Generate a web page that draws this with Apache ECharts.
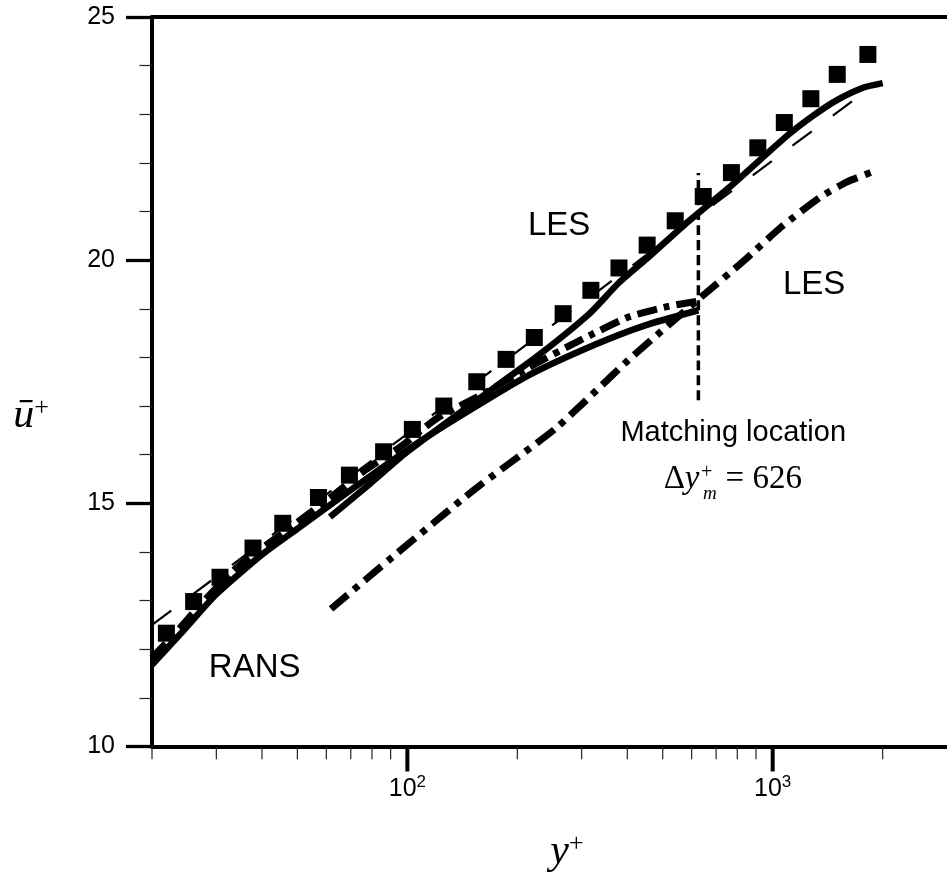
<!DOCTYPE html>
<html><head><meta charset="utf-8">
<script src="https://cdn.jsdelivr.net/npm/echarts@6/dist/echarts.min.js"></script>
<style>html,body{margin:0;padding:0;background:#fff}#c{width:947px;height:875px}</style>
</head><body><div id="c"></div>
<script>
// ---- data ----
const squaresX = [21.9, 26.0, 30.7, 37.8, 45.6, 57.1, 69.4, 86.1, 103.2, 125.8, 154.9, 186.3, 222.6, 266.9, 317.9, 379.5, 453.3, 541.0, 645.5, 770.9, 910.6, 1076, 1272, 1502, 1822];
const squaresU = [12.33, 12.98, 13.48, 14.08, 14.59, 15.12, 15.58, 16.06, 16.52, 17.00, 17.50, 17.96, 18.41, 18.90, 19.38, 19.84, 20.31, 20.81, 21.31, 21.80, 22.31, 22.83, 23.32, 23.82, 24.23];

const ransX = [20, 24.5, 29.9, 39.9, 50.3, 68.7, 100, 142.8, 215.8, 328, 448, 626];
const ransU = [11.68, 12.40, 13.12, 13.94, 14.49, 15.23, 16.10, 16.84, 17.64, 18.27, 18.66, 18.97];

const ransDashDotX = [20, 24.0, 27.4, 34.5, 47.2, 61.8, 76.9, 95.7, 120.6, 164.9, 215.8, 294.9, 403.3, 517.7, 626];
const ransDashDotU = [11.82, 12.46, 12.95, 13.71, 14.47, 15.13, 15.69, 16.16, 16.75, 17.29, 17.80, 18.34, 18.83, 19.05, 19.16];

const lesX = [61.4, 78.9, 100, 154.9, 225.5, 314, 378.7, 456.7, 576, 772.6, 1076, 1274, 1499, 1774, 2000];
const lesU = [14.72, 15.40, 16.06, 17.12, 18.01, 18.89, 19.53, 20.06, 20.74, 21.54, 22.51, 22.94, 23.29, 23.55, 23.64];

const lesDashDotX = [61.8, 93.9, 151.8, 255.5, 403.3, 639, 838, 1054, 1353, 1598, 1928];
const lesDashDotU = [12.83, 13.98, 15.27, 16.55, 17.95, 19.25, 20.0, 20.68, 21.30, 21.61, 21.85];

const logLawX = [20, 100, 1000, 1800];
const logLawU = [12.5, 16.43, 22.05, 23.48];

const matchX = [626, 626];
const matchU = [17.12, 21.79];

const xMajorTicks = [100, 1000];
const xMinorTicks = [20, 30, 40, 50, 60, 70, 80, 90, 200, 300, 400, 500, 600, 700, 800, 900, 2000];
const yTickLabels = [10, 15, 20, 25];

const X_MIN = 20, X_MAX = 3000;
const Y_MIN = yTickLabels[0], Y_MAX = yTickLabels[yTickLabels.length - 1];

// annotation anchors (data coordinates of text centres)
const annoRANS = [38.2, 11.62];
const annoLES1 = [260.3, 20.70];
const annoLES2 = [1298, 19.49];
const annoMatch = [779.8, 16.44];
const annoDelta = [777.5, 15.50];

// ---- chart ----
const chart = echarts.init(document.getElementById('c'), null, {renderer: 'canvas'});
const pair = (xs, ys) => xs.map((x, i) => [x, ys[i]]);
const SANS = 'Liberation Sans, Arial, sans-serif';
const SERIF = 'Liberation Serif, Times New Roman, serif';

function lineSeries(name, xs, ys, width, type, z) {
  return {
    name, type: 'line', data: pair(xs, ys), symbol: 'none', smooth: 0.2, clip: false,
    silent: true, animation: false, z: z,
    lineStyle: {color: '#000', width: width, type: type, cap: 'butt', join: 'round', opacity: 1}
  };
}

const option = {
  animation: false,
  backgroundColor: '#fff',
  textStyle: {fontFamily: SANS, color: '#000'},
  grid: {left: 152, top: 17, right: -7, bottom: 128.5},
  xAxis: [{
    type: 'log', logBase: 10, min: X_MIN, max: X_MAX, position: 'bottom',
    axisLine: {show: true, onZero: false, lineStyle: {color: '#000', width: 4}},
    axisTick: {show: false},
    splitLine: {show: false},
    axisLabel: {
      show: true, showMinLabel: false, showMaxLabel: false, margin: 27, color: '#000',
      formatter: v => '{b|10}{s|' + Math.round(Math.log10(v)) + '}',
      rich: {
        b: {fontSize: 25, lineHeight: 31, fontFamily: SANS, color: '#000'},
        s: {fontSize: 17, lineHeight: 17, verticalAlign: 'top', fontFamily: SANS, color: '#000'}
      }
    }
  }, {
    type: 'log', logBase: 10, min: X_MIN, max: X_MAX, position: 'top',
    axisLine: {show: true, onZero: false, lineStyle: {color: '#000', width: 4}},
    axisTick: {show: false}, axisLabel: {show: false}, splitLine: {show: false}
  }],
  yAxis: [{
    type: 'value', min: Y_MIN, max: Y_MAX, interval: 5,
    axisLine: {show: true, onZero: false, lineStyle: {color: '#000', width: 4}},
    axisTick: {show: true, length: 26, lineStyle: {color: '#000', width: 3.3}},
    minorTick: {show: true, splitNumber: 5, length: 12.5, lineStyle: {color: '#222', width: 1.2}},
    splitLine: {show: false}, minorSplitLine: {show: false},
    axisLabel: {show: true, margin: 37, fontSize: 25, color: '#000', fontFamily: SANS,
      customValues: yTickLabels}
  }],
  graphic: [
    {type: 'text', x: 31, y: 416, style: {text: '{u|ū}{p|+}', align: 'center', verticalAlign: 'middle',
      rich: {u: {fontSize: 42, fontStyle: 'italic', fontFamily: SERIF, fill: '#000'},
             p: {fontSize: 26, fontFamily: SERIF, verticalAlign: 'top', lineHeight: 24, fill: '#000'}}}},
    {type: 'text', x: 567, y: 852, style: {text: '{u|y}{p|+}', align: 'center', verticalAlign: 'middle',
      rich: {u: {fontSize: 42, fontStyle: 'italic', fontFamily: SERIF, fill: '#000'},
             p: {fontSize: 26, fontFamily: SERIF, verticalAlign: 'top', lineHeight: 24, fill: '#000'}}}}
  ],
  series: [
    // x-axis ticks drawn through the log scale
    {
      type: 'custom', name: 'xticks', clip: false, silent: true, z: 1,
      data: xMinorTicks.map(v => [v, Y_MIN, 0]).concat(xMajorTicks.map(v => [v, Y_MIN, 1])),
      renderItem: (params, api) => {
        const p = api.coord([api.value(0), api.value(1)]);
        const major = api.value(2) === 1;
        return {type: 'line', shape: {x1: p[0], y1: p[1], x2: p[0], y2: p[1] + (major ? 25 : 12.7)},
          style: {stroke: major ? '#000' : '#222', lineWidth: major ? 4 : 1.2}};
      }
    },
    lineSeries('Log law', logLawX, logLawU, 2.2, [24, 26], 2),
    lineSeries('Matching location', matchX, matchU, 3.5, [10, 5], 2),
    lineSeries('RANS dash-dot', ransDashDotX, ransDashDotU, 7, [20, 7, 6, 7], 3),
    lineSeries('LES dash-dot', lesDashDotX, lesDashDotU, 7, [22, 8, 6, 8], 3),
    lineSeries('RANS', ransX, ransU, 6.5, 'solid', 4),
    lineSeries('LES', lesX, lesU, 6.5, 'solid', 4),
    {
      name: 'DNS', type: 'scatter', data: pair(squaresX, squaresU), symbol: 'rect', symbolSize: 17,
      itemStyle: {color: '#000', opacity: 1}, silent: true, z: 5, clip: false
    },
    {
      name: 'annotations', type: 'scatter', symbolSize: 1, itemStyle: {color: 'rgba(0,0,0,0)'},
      silent: true, z: 10, clip: false,
      label: {show: true, position: 'inside', color: '#000', opacity: 1, fontFamily: SANS},
      data: [
        {value: annoRANS, label: {formatter: 'RANS', fontSize: 33}},
        {value: annoLES1, label: {formatter: 'LES', fontSize: 33}},
        {value: annoLES2, label: {formatter: 'LES', fontSize: 33}},
        {value: annoMatch, label: {formatter: 'Matching location', fontSize: 29}},
        {value: annoDelta, label: {
          formatter: '{d|Δ}{y|y}{g|}{e|= 626}',
          rich: {
            d: {fontSize: 33, fontFamily: SERIF, color: '#000'},
            y: {fontSize: 33, fontFamily: SERIF, fontStyle: 'italic', color: '#000'},
            g: {width: 26},
            e: {fontSize: 33, fontFamily: SERIF, color: '#000'}
          }}},
        {value: annoDelta, label: {formatter: '+', fontSize: 20, fontFamily: SERIF, offset: [-26, -6]}},
        {value: annoDelta, label: {formatter: 'm', fontSize: 19, fontFamily: SERIF, fontStyle: 'italic', offset: [-23, 15]}}
      ]
    }
  ]
};
chart.setOption(option);
</script>
</body></html>
